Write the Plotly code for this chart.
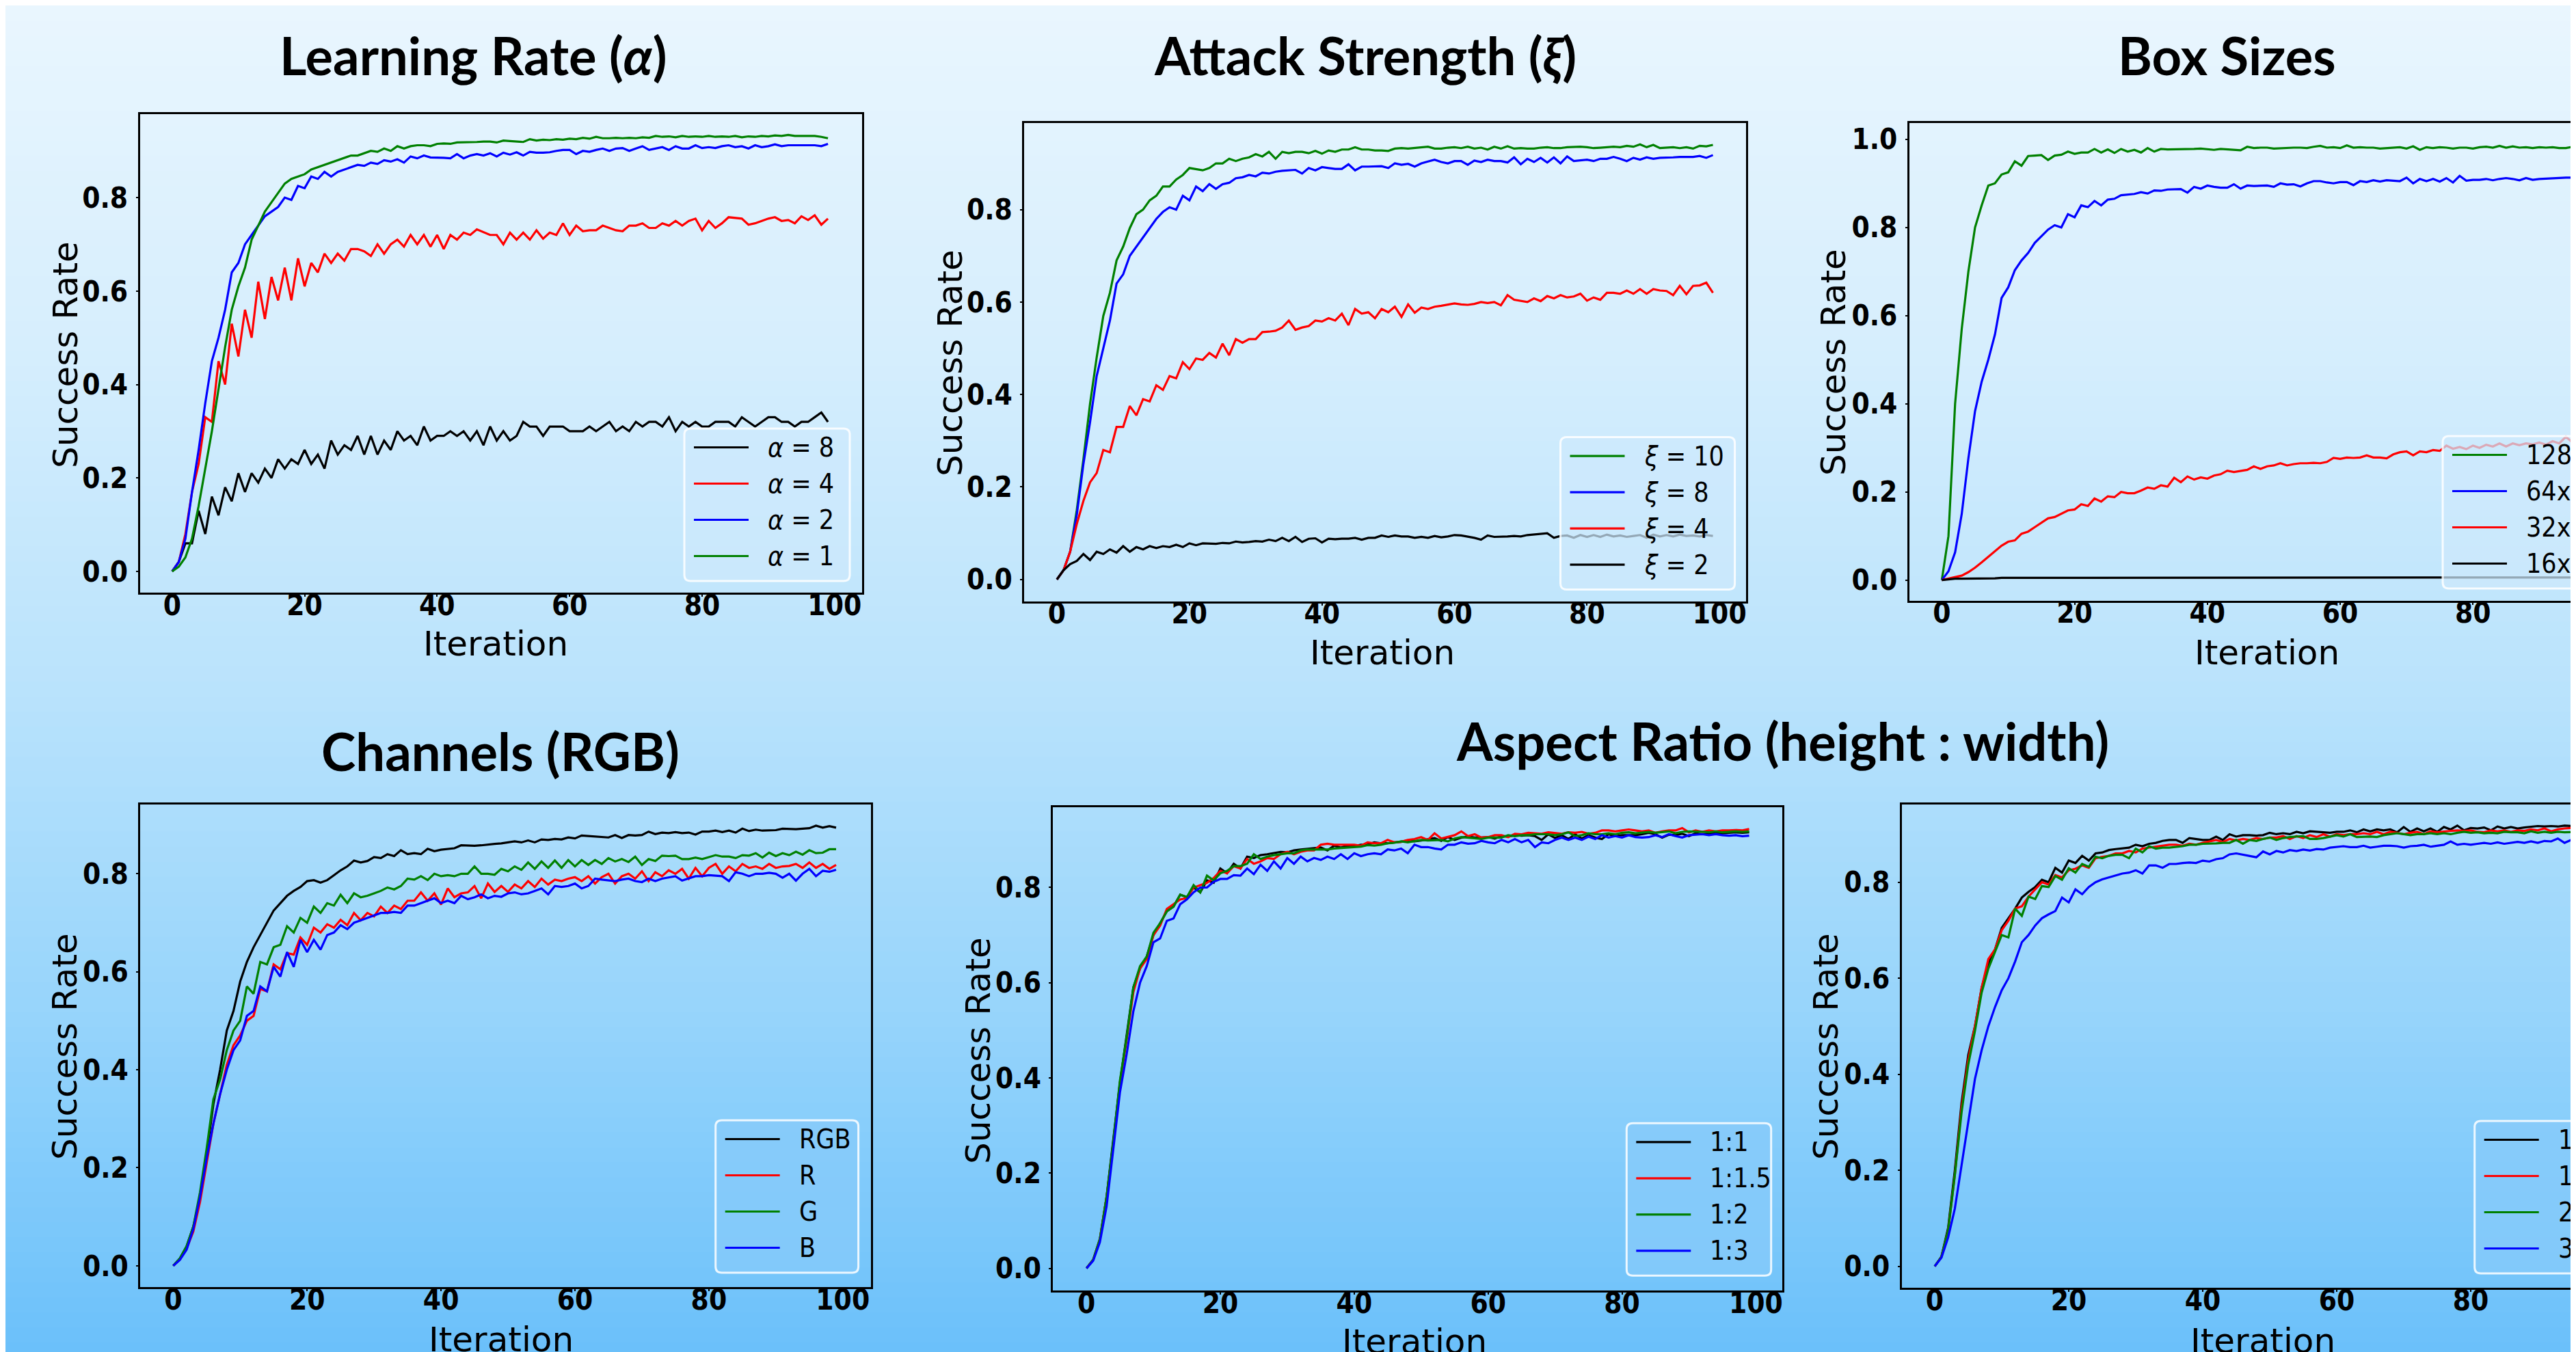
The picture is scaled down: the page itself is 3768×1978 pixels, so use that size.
import plotly.graph_objects as go

W, H = 3768, 1978

# ---------------- data ----------------
# Learning Rate (alpha)
lr_a8 = [0, 0.02, 0.06, 0.06, 0.13, 0.08, 0.16, 0.12, 0.18, 0.15, 0.21, 0.17, 0.21, 0.19, 0.22, 0.20, 0.24, 0.22, 0.24, 0.23,
         0.26, 0.23, 0.25, 0.22, 0.28, 0.25, 0.27, 0.26, 0.29, 0.25, 0.29, 0.25, 0.28, 0.26, 0.30, 0.28, 0.29, 0.27, 0.31, 0.28,
         0.29, 0.29, 0.30, 0.29, 0.30, 0.28, 0.30, 0.27, 0.31, 0.28, 0.30, 0.28, 0.29, 0.32, 0.31, 0.31, 0.29, 0.31, 0.31, 0.31,
         0.30, 0.30, 0.30, 0.31, 0.30, 0.31, 0.32, 0.30, 0.31, 0.30, 0.32, 0.31, 0.32, 0.32, 0.31, 0.33, 0.30, 0.32, 0.31, 0.32,
         0.31, 0.31, 0.32, 0.32, 0.32, 0.31, 0.33, 0.32, 0.31, 0.32, 0.33, 0.33, 0.32, 0.32, 0.31, 0.32, 0.32, 0.33, 0.34, 0.32]
lr_a4 = [0, 0.02, 0.08, 0.17, 0.23, 0.33, 0.32, 0.45, 0.40, 0.53, 0.46, 0.56, 0.50, 0.62, 0.54, 0.63, 0.58, 0.65, 0.58, 0.67,
         0.61, 0.66, 0.64, 0.68, 0.66, 0.68, 0.665, 0.69, 0.69, 0.685, 0.675, 0.70, 0.68, 0.70, 0.71, 0.695, 0.72, 0.70, 0.72, 0.695,
         0.72, 0.69, 0.72, 0.71, 0.725, 0.72, 0.732, 0.726, 0.72, 0.72, 0.70, 0.725, 0.71, 0.725, 0.71, 0.73, 0.712, 0.725, 0.72, 0.745,
         0.72, 0.74, 0.728, 0.73, 0.73, 0.74, 0.735, 0.73, 0.728, 0.74, 0.74, 0.745, 0.735, 0.735, 0.745, 0.74, 0.75, 0.74, 0.75, 0.755,
         0.73, 0.75, 0.735, 0.745, 0.758, 0.756, 0.755, 0.742, 0.745, 0.75, 0.755, 0.758, 0.75, 0.752, 0.745, 0.76, 0.752, 0.762, 0.742, 0.755]
lr_a2 = [0, 0.02, 0.07, 0.17, 0.26, 0.36, 0.45, 0.50, 0.56, 0.64, 0.66, 0.70, 0.72, 0.74, 0.76, 0.77, 0.78, 0.80, 0.795, 0.825,
         0.82, 0.845, 0.84, 0.855, 0.845, 0.855, 0.86, 0.865, 0.87, 0.868, 0.875, 0.872, 0.88, 0.877, 0.882, 0.875, 0.888, 0.884, 0.89, 0.886,
         0.886, 0.885, 0.884, 0.893, 0.884, 0.89, 0.893, 0.89, 0.895, 0.888, 0.896, 0.892, 0.897, 0.89, 0.898, 0.896, 0.896, 0.897, 0.90, 0.902,
         0.902, 0.893, 0.90, 0.898, 0.902, 0.905, 0.90, 0.905, 0.906, 0.90, 0.905, 0.91, 0.902, 0.905, 0.908, 0.902, 0.91, 0.905, 0.905, 0.912,
         0.906, 0.908, 0.906, 0.91, 0.912, 0.908, 0.91, 0.905, 0.912, 0.908, 0.91, 0.914, 0.91, 0.912, 0.912, 0.913, 0.913, 0.912, 0.91, 0.915]
lr_a1 = [0, 0.01, 0.03, 0.07, 0.14, 0.22, 0.30, 0.39, 0.48, 0.56, 0.61, 0.65, 0.71, 0.74, 0.77, 0.79, 0.81, 0.83, 0.84, 0.845,
         0.85, 0.86, 0.865, 0.87, 0.875, 0.88, 0.885, 0.89, 0.89, 0.895, 0.90, 0.898, 0.905, 0.90, 0.91, 0.905, 0.91, 0.912, 0.912, 0.91,
         0.915, 0.916, 0.915, 0.918, 0.918, 0.919, 0.919, 0.92, 0.92, 0.918, 0.922, 0.921, 0.92, 0.919, 0.925, 0.922, 0.924, 0.923, 0.925, 0.924,
         0.926, 0.925, 0.928, 0.926, 0.93, 0.927, 0.927, 0.928, 0.927, 0.928, 0.927, 0.929, 0.928, 0.932, 0.93, 0.931, 0.929, 0.932, 0.93, 0.931,
         0.93, 0.932, 0.93, 0.931, 0.93, 0.932, 0.929, 0.931, 0.93, 0.932, 0.931, 0.933, 0.932, 0.934, 0.932, 0.932, 0.931, 0.932, 0.93, 0.927]

# Attack Strength (xi)
as_x10 = [0, 0.02, 0.06, 0.15, 0.26, 0.38, 0.48, 0.57, 0.62, 0.69, 0.72, 0.76, 0.79, 0.80, 0.82, 0.83, 0.85, 0.85, 0.865, 0.875,
          0.89, 0.887, 0.885, 0.89, 0.90, 0.90, 0.91, 0.905, 0.91, 0.913, 0.92, 0.915, 0.925, 0.91, 0.925, 0.922, 0.925, 0.925, 0.922, 0.927,
          0.921, 0.928, 0.925, 0.93, 0.93, 0.935, 0.93, 0.93, 0.928, 0.928, 0.927, 0.932, 0.933, 0.932, 0.933, 0.935, 0.936, 0.932, 0.932, 0.934,
          0.935, 0.933, 0.936, 0.932, 0.934, 0.93, 0.936, 0.932, 0.937, 0.932, 0.933, 0.932, 0.932, 0.934, 0.935, 0.933, 0.933, 0.935, 0.936, 0.936,
          0.935, 0.933, 0.934, 0.935, 0.936, 0.935, 0.938, 0.936, 0.941, 0.935, 0.94, 0.933, 0.934, 0.935, 0.933, 0.935, 0.932, 0.938, 0.937, 0.94]
as_x8 = [0, 0.02, 0.06, 0.14, 0.25, 0.34, 0.44, 0.50, 0.56, 0.64, 0.66, 0.70, 0.72, 0.74, 0.76, 0.78, 0.795, 0.805, 0.80, 0.83,
         0.82, 0.85, 0.84, 0.855, 0.845, 0.855, 0.858, 0.868, 0.87, 0.875, 0.872, 0.88, 0.878, 0.882, 0.884, 0.885, 0.886, 0.878, 0.89, 0.885,
         0.892, 0.89, 0.888, 0.888, 0.898, 0.885, 0.893, 0.893, 0.893, 0.894, 0.89, 0.90, 0.897, 0.899, 0.893, 0.90, 0.904, 0.908, 0.903, 0.90,
         0.905, 0.905, 0.897, 0.906, 0.903, 0.908, 0.905, 0.905, 0.902, 0.913, 0.898, 0.91, 0.903, 0.912, 0.902, 0.913, 0.90, 0.915, 0.905, 0.906,
         0.908, 0.905, 0.91, 0.91, 0.914, 0.91, 0.905, 0.912, 0.908, 0.913, 0.91, 0.912, 0.912, 0.913, 0.914, 0.914, 0.914, 0.916, 0.912, 0.918]
as_x4 = [0, 0.02, 0.06, 0.12, 0.17, 0.21, 0.23, 0.28, 0.275, 0.33, 0.33, 0.375, 0.355, 0.39, 0.385, 0.42, 0.41, 0.44, 0.435, 0.47,
         0.455, 0.478, 0.475, 0.49, 0.48, 0.51, 0.485, 0.52, 0.512, 0.52, 0.52, 0.535, 0.536, 0.538, 0.545, 0.56, 0.54, 0.545, 0.548, 0.56,
         0.558, 0.565, 0.56, 0.575, 0.55, 0.585, 0.575, 0.578, 0.565, 0.585, 0.578, 0.59, 0.568, 0.595, 0.577, 0.588, 0.585, 0.59, 0.592, 0.595,
         0.597, 0.595, 0.594, 0.596, 0.60, 0.598, 0.60, 0.593, 0.615, 0.605, 0.603, 0.60, 0.608, 0.602, 0.613, 0.608, 0.615, 0.61, 0.612, 0.618,
         0.603, 0.61, 0.605, 0.62, 0.62, 0.618, 0.625, 0.618, 0.628, 0.618, 0.628, 0.625, 0.624, 0.615, 0.635, 0.617, 0.635, 0.636, 0.642, 0.62]
as_x2 = [0, 0.02, 0.033, 0.04, 0.055, 0.042, 0.06, 0.055, 0.065, 0.058, 0.072, 0.06, 0.07, 0.065, 0.072, 0.068, 0.072, 0.07, 0.075, 0.07,
         0.078, 0.074, 0.078, 0.078, 0.077, 0.079, 0.078, 0.082, 0.08, 0.081, 0.083, 0.082, 0.086, 0.083, 0.09, 0.083, 0.092, 0.081, 0.088, 0.089,
         0.08, 0.088, 0.087, 0.088, 0.088, 0.09, 0.086, 0.09, 0.09, 0.095, 0.092, 0.095, 0.093, 0.093, 0.09, 0.092, 0.09, 0.094, 0.091, 0.093,
         0.096, 0.095, 0.093, 0.09, 0.086, 0.095, 0.092, 0.092, 0.093, 0.094, 0.093, 0.096, 0.097, 0.098, 0.10, 0.09, 0.094, 0.095, 0.09, 0.096,
         0.092, 0.096, 0.092, 0.097, 0.093, 0.095, 0.092, 0.094, 0.096, 0.09, 0.097, 0.093, 0.096, 0.093, 0.097, 0.094, 0.095, 0.093, 0.096, 0.094]

# Box Sizes
bs_128 = [0, 0.10, 0.40, 0.57, 0.70, 0.80, 0.85, 0.895, 0.90, 0.92, 0.925, 0.95, 0.94, 0.962, 0.963, 0.964, 0.953, 0.963, 0.965, 0.972,
          0.967, 0.97, 0.97, 0.978, 0.97, 0.977, 0.969, 0.978, 0.972, 0.976, 0.97, 0.98, 0.972, 0.978, 0.977, 0.977, 0.978, 0.978, 0.978, 0.979,
          0.977, 0.976, 0.978, 0.977, 0.975, 0.975, 0.983, 0.98, 0.981, 0.981, 0.979, 0.98, 0.981, 0.981, 0.981, 0.98, 0.983, 0.985, 0.981, 0.982,
          0.98, 0.986, 0.981, 0.982, 0.981, 0.981, 0.979, 0.98, 0.982, 0.982, 0.979, 0.984, 0.976, 0.982, 0.98, 0.982, 0.981, 0.979, 0.981, 0.981,
          0.979, 0.982, 0.983, 0.981, 0.985, 0.981, 0.984, 0.981, 0.982, 0.98, 0.982, 0.981, 0.982, 0.98, 0.98, 0.983, 0.979, 0.981, 0.982, 0.982]
bs_64 = [0, 0.02, 0.063, 0.15, 0.276, 0.383, 0.45, 0.50, 0.557, 0.64, 0.664, 0.703, 0.725, 0.742, 0.765, 0.78, 0.795, 0.805, 0.80, 0.83,
         0.823, 0.85, 0.846, 0.86, 0.85, 0.863, 0.865, 0.873, 0.875, 0.876, 0.88, 0.877, 0.884, 0.883, 0.886, 0.886, 0.887, 0.879, 0.892, 0.888,
         0.895, 0.892, 0.89, 0.89, 0.898, 0.888, 0.895, 0.894, 0.894, 0.895, 0.892, 0.90, 0.897, 0.898, 0.893, 0.90, 0.905, 0.905, 0.902, 0.90,
         0.903, 0.903, 0.896, 0.905, 0.903, 0.907, 0.904, 0.907, 0.906, 0.905, 0.913, 0.90, 0.91, 0.905, 0.91, 0.904, 0.912, 0.902, 0.917, 0.906,
         0.908, 0.908, 0.91, 0.907, 0.91, 0.912, 0.91, 0.907, 0.912, 0.908, 0.91, 0.911, 0.911, 0.912, 0.913, 0.913, 0.913, 0.914, 0.914, 0.915]
bs_32 = [0, 0.003, 0.006, 0.01, 0.018, 0.028, 0.04, 0.053, 0.066, 0.078, 0.087, 0.09, 0.105, 0.11, 0.12, 0.13, 0.14, 0.143, 0.15, 0.158,
         0.16, 0.172, 0.168, 0.185, 0.178, 0.19, 0.188, 0.20, 0.197, 0.197, 0.203, 0.21, 0.207, 0.215, 0.212, 0.232, 0.222, 0.235, 0.228, 0.233,
         0.23, 0.237, 0.24, 0.248, 0.245, 0.248, 0.25, 0.258, 0.252, 0.258, 0.26, 0.265, 0.26, 0.263, 0.265, 0.265, 0.266, 0.265, 0.268, 0.277,
         0.275, 0.278, 0.277, 0.278, 0.283, 0.278, 0.278, 0.276, 0.285, 0.29, 0.292, 0.283, 0.292, 0.29, 0.295, 0.293, 0.305, 0.298, 0.302, 0.297,
         0.305, 0.30, 0.307, 0.303, 0.31, 0.303, 0.31, 0.306, 0.31, 0.308, 0.312, 0.307, 0.315, 0.31, 0.325, 0.312, 0.32, 0.318, 0.318, 0.32]
bs_16 = [0, 0.002, 0.003, 0.003, 0.003, 0.003, 0.003, 0.004, 0.004, 0.005, 0.005, 0.006, 0.006, 0.006, 0.006, 0.006, 0.006, 0.006, 0.006, 0.006,
         0.006, 0.006, 0.006, 0.006, 0.006, 0.006, 0.006, 0.006, 0.006, 0.006, 0.006, 0.006, 0.006, 0.006, 0.006, 0.006, 0.006, 0.006, 0.006, 0.006,
         0.006, 0.006, 0.006, 0.006, 0.006, 0.006, 0.006, 0.006, 0.006, 0.006, 0.006, 0.006, 0.006, 0.006, 0.006, 0.006, 0.006, 0.006, 0.006, 0.006,
         0.006, 0.006, 0.006, 0.006, 0.006, 0.006, 0.006, 0.006, 0.006, 0.006, 0.006, 0.006, 0.006, 0.006, 0.006, 0.006, 0.006, 0.006, 0.006, 0.006,
         0.006, 0.006, 0.006, 0.006, 0.006, 0.006, 0.006, 0.006, 0.006, 0.006, 0.006, 0.006, 0.006, 0.006, 0.006, 0.006, 0.006, 0.006, 0.006, 0.006]

# Channels (RGB)
ch_rgb = [0, 0.015, 0.04, 0.08, 0.14, 0.23, 0.33, 0.40, 0.48, 0.52, 0.58, 0.62, 0.65, 0.675, 0.70, 0.725, 0.74, 0.755, 0.765, 0.773,
          0.785, 0.787, 0.782, 0.787, 0.797, 0.807, 0.815, 0.827, 0.823, 0.826, 0.834, 0.832, 0.84, 0.836, 0.848, 0.84, 0.842, 0.84, 0.851, 0.846,
          0.849, 0.851, 0.852, 0.858, 0.857, 0.857, 0.858, 0.86, 0.861, 0.862, 0.864, 0.866, 0.864, 0.868, 0.864, 0.87, 0.869, 0.871, 0.87, 0.874,
          0.872, 0.878, 0.877, 0.876, 0.876, 0.874, 0.879, 0.873, 0.879, 0.878, 0.879, 0.886, 0.881, 0.884, 0.883, 0.885, 0.883, 0.884, 0.88, 0.886,
          0.886, 0.888, 0.885, 0.888, 0.884, 0.892, 0.887, 0.89, 0.888, 0.889, 0.889, 0.892, 0.891, 0.891, 0.892, 0.893, 0.898, 0.894, 0.897, 0.894]
ch_r = [0, 0.013, 0.035, 0.07, 0.13, 0.21, 0.29, 0.35, 0.41, 0.45, 0.47, 0.50, 0.51, 0.565, 0.56, 0.615, 0.605, 0.638, 0.635, 0.67,
        0.655, 0.69, 0.68, 0.697, 0.69, 0.706, 0.695, 0.72, 0.705, 0.72, 0.713, 0.733, 0.72, 0.735, 0.728, 0.745, 0.745, 0.762, 0.745, 0.76,
        0.737, 0.77, 0.752, 0.76, 0.762, 0.775, 0.75, 0.78, 0.763, 0.775, 0.763, 0.778, 0.77, 0.785, 0.773, 0.79, 0.778, 0.788, 0.785, 0.79,
        0.793, 0.785, 0.795, 0.78, 0.793, 0.80, 0.78, 0.795, 0.80, 0.79, 0.805, 0.785, 0.803, 0.795, 0.807, 0.80, 0.81, 0.79, 0.812, 0.795,
        0.812, 0.82, 0.80, 0.815, 0.805, 0.82, 0.812, 0.815, 0.81, 0.82, 0.812, 0.815, 0.816, 0.82, 0.812, 0.823, 0.812, 0.82, 0.81, 0.818]
ch_g = [0, 0.015, 0.04, 0.08, 0.15, 0.24, 0.34, 0.38, 0.44, 0.48, 0.50, 0.57, 0.555, 0.62, 0.615, 0.65, 0.655, 0.693, 0.68, 0.71,
        0.70, 0.733, 0.72, 0.74, 0.735, 0.757, 0.74, 0.76, 0.752, 0.755, 0.76, 0.765, 0.772, 0.768, 0.775, 0.79, 0.788, 0.795, 0.787, 0.80,
        0.795, 0.797, 0.795, 0.80, 0.80, 0.815, 0.80, 0.80, 0.798, 0.81, 0.805, 0.815, 0.808, 0.823, 0.81, 0.825, 0.812, 0.827, 0.812, 0.828,
        0.815, 0.828, 0.818, 0.828, 0.82, 0.832, 0.825, 0.83, 0.824, 0.835, 0.818, 0.83, 0.826, 0.837, 0.836, 0.837, 0.83, 0.83, 0.833, 0.83,
        0.834, 0.838, 0.835, 0.835, 0.832, 0.838, 0.837, 0.842, 0.833, 0.843, 0.836, 0.842, 0.838, 0.845, 0.839, 0.848, 0.842, 0.843, 0.85, 0.85]
ch_b = [0, 0.012, 0.033, 0.075, 0.14, 0.22, 0.29, 0.35, 0.40, 0.44, 0.46, 0.51, 0.52, 0.57, 0.56, 0.61, 0.59, 0.64, 0.61, 0.665,
        0.64, 0.665, 0.645, 0.675, 0.68, 0.695, 0.687, 0.70, 0.705, 0.71, 0.715, 0.72, 0.72, 0.722, 0.72, 0.735, 0.735, 0.74, 0.745, 0.75,
        0.74, 0.745, 0.74, 0.755, 0.748, 0.752, 0.758, 0.75, 0.755, 0.753, 0.76, 0.762, 0.758, 0.76, 0.765, 0.77, 0.758, 0.775, 0.773, 0.775,
        0.78, 0.77, 0.775, 0.79, 0.788, 0.787, 0.785, 0.788, 0.79, 0.785, 0.783, 0.79, 0.785, 0.79, 0.793, 0.795, 0.786, 0.79, 0.795, 0.795,
        0.797, 0.796, 0.795, 0.785, 0.803, 0.80, 0.795, 0.80, 0.80, 0.802, 0.80, 0.792, 0.80, 0.786, 0.80, 0.81, 0.795, 0.806, 0.804, 0.808]

# Aspect Ratio (height : width), left panel
ar_1_1 = [0, 0.018, 0.06, 0.15, 0.27, 0.39, 0.49, 0.59, 0.63, 0.655, 0.70, 0.725, 0.75, 0.76, 0.785, 0.78, 0.80, 0.79, 0.815, 0.81,
          0.84, 0.83, 0.85, 0.84, 0.865, 0.862, 0.868, 0.87, 0.872, 0.875, 0.874, 0.878, 0.88, 0.881, 0.882, 0.884, 0.878, 0.888, 0.884, 0.888,
          0.887, 0.89, 0.89, 0.895, 0.893, 0.893, 0.895, 0.896, 0.899, 0.897, 0.899, 0.901, 0.904, 0.898, 0.906, 0.90, 0.905, 0.907, 0.905, 0.905,
          0.906, 0.903, 0.908, 0.907, 0.91, 0.909, 0.91, 0.908, 0.90, 0.912, 0.904, 0.91, 0.902, 0.912, 0.903, 0.91, 0.905, 0.902, 0.912, 0.908,
          0.91, 0.91, 0.91, 0.912, 0.915, 0.912, 0.905, 0.911, 0.91, 0.913, 0.908, 0.914, 0.912, 0.913, 0.913, 0.914, 0.915, 0.916, 0.915, 0.916]
ar_1_15 = [0, 0.018, 0.062, 0.15, 0.26, 0.39, 0.48, 0.58, 0.63, 0.65, 0.70, 0.72, 0.755, 0.765, 0.775, 0.778, 0.80, 0.805, 0.81, 0.82,
           0.835, 0.83, 0.845, 0.84, 0.86, 0.85, 0.855, 0.862, 0.86, 0.87, 0.875, 0.87, 0.875, 0.878, 0.878, 0.89, 0.892, 0.89, 0.89, 0.89,
           0.89, 0.888, 0.895, 0.893, 0.893, 0.90, 0.895, 0.896, 0.90, 0.902, 0.906, 0.90, 0.914, 0.903, 0.906, 0.91, 0.918, 0.908, 0.912, 0.905,
           0.906, 0.91, 0.91, 0.906, 0.913, 0.912, 0.915, 0.914, 0.913, 0.916, 0.915, 0.913, 0.916, 0.915, 0.917, 0.913, 0.915, 0.92, 0.92, 0.918,
           0.92, 0.922, 0.92, 0.918, 0.92, 0.915, 0.918, 0.92, 0.92, 0.925, 0.916, 0.92, 0.917, 0.92, 0.918, 0.92, 0.92, 0.921, 0.92, 0.923]
ar_1_2 = [0, 0.018, 0.062, 0.15, 0.265, 0.395, 0.485, 0.59, 0.635, 0.655, 0.705, 0.725, 0.75, 0.76, 0.785, 0.78, 0.805, 0.79, 0.825, 0.815,
          0.83, 0.835, 0.845, 0.845, 0.85, 0.87, 0.86, 0.865, 0.868, 0.87, 0.872, 0.872, 0.878, 0.88, 0.88, 0.88, 0.88, 0.882, 0.883, 0.885,
          0.885, 0.886, 0.889, 0.888, 0.89, 0.893, 0.894, 0.897, 0.895, 0.898, 0.90, 0.899, 0.90, 0.90, 0.897, 0.903, 0.906, 0.905, 0.904, 0.902,
          0.905, 0.905, 0.905, 0.91, 0.908, 0.91, 0.91, 0.912, 0.912, 0.912, 0.91, 0.912, 0.916, 0.908, 0.91, 0.914, 0.912, 0.912, 0.914, 0.912,
          0.915, 0.916, 0.914, 0.915, 0.917, 0.915, 0.916, 0.918, 0.914, 0.917, 0.918, 0.918, 0.917, 0.916, 0.918, 0.916, 0.917, 0.918, 0.917, 0.918]
ar_1_3 = [0, 0.016, 0.055, 0.13, 0.25, 0.37, 0.45, 0.54, 0.60, 0.635, 0.685, 0.693, 0.73, 0.735, 0.765, 0.775, 0.79, 0.80, 0.80, 0.812,
          0.818, 0.818, 0.826, 0.825, 0.84, 0.828, 0.848, 0.835, 0.855, 0.84, 0.862, 0.85, 0.865, 0.855, 0.862, 0.858, 0.865, 0.86, 0.87, 0.86,
          0.872, 0.866, 0.87, 0.872, 0.87, 0.88, 0.878, 0.882, 0.872, 0.89, 0.885, 0.885, 0.882, 0.88, 0.89, 0.89, 0.895, 0.892, 0.893, 0.898,
          0.895, 0.893, 0.90, 0.895, 0.902, 0.895, 0.90, 0.885, 0.895, 0.893, 0.90, 0.905, 0.90, 0.905, 0.90, 0.907, 0.902, 0.91, 0.905, 0.908,
          0.905, 0.91, 0.906, 0.905, 0.906, 0.91, 0.906, 0.912, 0.908, 0.905, 0.91, 0.911, 0.912, 0.91, 0.912, 0.91, 0.909, 0.91, 0.908, 0.909]

# Aspect Ratio (height : width), right panel
ar_11 = [0, 0.02, 0.08, 0.20, 0.34, 0.44, 0.50, 0.58, 0.63, 0.66, 0.705, 0.725, 0.745, 0.768, 0.78, 0.79, 0.805, 0.80, 0.83, 0.82,
         0.845, 0.84, 0.855, 0.845, 0.86, 0.862, 0.867, 0.869, 0.87, 0.872, 0.878, 0.875, 0.88, 0.882, 0.886, 0.888, 0.888, 0.882, 0.892, 0.89,
         0.888, 0.888, 0.895, 0.888, 0.90, 0.895, 0.898, 0.898, 0.897, 0.898, 0.903, 0.90, 0.902, 0.90, 0.905, 0.902, 0.906, 0.905, 0.904, 0.903,
         0.905, 0.905, 0.908, 0.904, 0.91, 0.906, 0.91, 0.908, 0.91, 0.904, 0.915, 0.905, 0.912, 0.906, 0.912, 0.905, 0.915, 0.91, 0.918, 0.908,
         0.913, 0.912, 0.914, 0.908, 0.916, 0.912, 0.915, 0.912, 0.914, 0.915, 0.917, 0.916, 0.917, 0.916, 0.918, 0.917, 0.918, 0.918, 0.919, 0.918]
ar_151 = [0, 0.02, 0.075, 0.19, 0.33, 0.43, 0.50, 0.58, 0.64, 0.66, 0.70, 0.72, 0.745, 0.75, 0.77, 0.785, 0.80, 0.795, 0.815, 0.81,
          0.825, 0.828, 0.835, 0.83, 0.85, 0.853, 0.855, 0.86, 0.86, 0.865, 0.862, 0.87, 0.872, 0.873, 0.875, 0.878, 0.878, 0.876, 0.88, 0.878,
          0.882, 0.885, 0.888, 0.884, 0.89, 0.887, 0.89, 0.888, 0.892, 0.89, 0.893, 0.893, 0.896, 0.89, 0.896, 0.892, 0.898, 0.894, 0.90, 0.895,
          0.90, 0.898, 0.90, 0.90, 0.902, 0.90, 0.905, 0.90, 0.905, 0.903, 0.90, 0.903, 0.905, 0.90, 0.906, 0.904, 0.906, 0.907, 0.908, 0.907,
          0.908, 0.905, 0.904, 0.908, 0.906, 0.908, 0.905, 0.908, 0.907, 0.91, 0.908, 0.912, 0.906, 0.91, 0.912, 0.913, 0.91, 0.914, 0.912, 0.915]
ar_21 = [0, 0.02, 0.075, 0.19, 0.32, 0.42, 0.49, 0.57, 0.62, 0.655, 0.69, 0.685, 0.745, 0.73, 0.77, 0.765, 0.792, 0.79, 0.813, 0.805,
         0.829, 0.82, 0.838, 0.832, 0.853, 0.85, 0.855, 0.857, 0.857, 0.85, 0.87, 0.862, 0.875, 0.87, 0.872, 0.872, 0.873, 0.875, 0.878, 0.878,
         0.88, 0.88, 0.881, 0.882, 0.882, 0.888, 0.88, 0.888, 0.886, 0.89, 0.893, 0.888, 0.892, 0.894, 0.895, 0.896, 0.89, 0.89, 0.892, 0.895,
         0.898, 0.895, 0.90, 0.894, 0.895, 0.895, 0.894, 0.898, 0.90, 0.902, 0.90, 0.898, 0.90, 0.90, 0.902, 0.90, 0.902, 0.90, 0.903, 0.905,
         0.903, 0.904, 0.902, 0.903, 0.902, 0.905, 0.904, 0.904, 0.902, 0.906, 0.903, 0.905, 0.903, 0.905, 0.904, 0.904, 0.905, 0.906, 0.905, 0.906]
ar_31 = [0, 0.018, 0.06, 0.12, 0.21, 0.30, 0.39, 0.45, 0.50, 0.54, 0.575, 0.60, 0.635, 0.675, 0.69, 0.71, 0.725, 0.733, 0.74, 0.768,
         0.758, 0.785, 0.775, 0.79, 0.80, 0.806, 0.81, 0.815, 0.818, 0.82, 0.825, 0.818, 0.835, 0.835, 0.83, 0.838, 0.838, 0.84, 0.841, 0.84,
         0.845, 0.843, 0.848, 0.85, 0.858, 0.86, 0.857, 0.855, 0.852, 0.864, 0.858, 0.865, 0.862, 0.867, 0.865, 0.868, 0.866, 0.869, 0.868, 0.872,
         0.873, 0.875, 0.873, 0.873, 0.876, 0.872, 0.874, 0.876, 0.876, 0.875, 0.872, 0.875, 0.876, 0.878, 0.874, 0.876, 0.878, 0.885, 0.878, 0.88,
         0.878, 0.88, 0.882, 0.88, 0.883, 0.88, 0.882, 0.884, 0.882, 0.885, 0.882, 0.886, 0.885, 0.891, 0.882, 0.888, 0.885, 0.887, 0.885, 0.888]

x_ticks = [0, 20, 40, 60, 80, 100]
y_ticks = [0.0, 0.2, 0.4, 0.6, 0.8]
y_ticks_box = [0.0, 0.2, 0.4, 0.6, 0.8, 1.0]

titles = ["Learning Rate (<i>α</i>)", "Attack Strength (<i>ξ</i>)", "Box Sizes",
          "Channels (RGB)", "Aspect Ratio (height : width)"]
lr_labels = ["<i>α</i> = 8", "<i>α</i> = 4", "<i>α</i> = 2", "<i>α</i> = 1"]
as_labels = ["<i>ξ</i> = 10", "<i>ξ</i> = 8", "<i>ξ</i> = 4", "<i>ξ</i> = 2"]
bs_labels = ["128x128", "64x64", "32x32", "16x16"]
ch_labels = ["RGB", "R", "G", "B"]
ar_left_labels = ["1:1", "1:1.5", "1:2", "1:3"]
ar_right_labels = ["1:1", "1.5:1", "2:1", "3:1"]
x_title = "Iteration"
y_title = "Success Rate"

K, R, BL, GR = "#000000", "#ff0000", "#0000ff", "#008000"

# ---------------- layout geometry (pixels) ----------------
panels = [
    dict(series=[lr_a8, lr_a4, lr_a2, lr_a1], labels=lr_labels, colors=[K, R, BL, GR],
         xpx=(196.5, 1252.7), ypx=(159.4, 859.4), xr=(-4.88, 104.12), yr=(-0.046, 0.978), yt=y_ticks, cut=False,
         ytitle=(88, 511), xtitle=(717, 934), leg=(993, 1235, 619)),
    dict(series=[as_x10, as_x8, as_x4, as_x2], labels=as_labels, colors=[GR, BL, R, K],
         xpx=(1490.3, 2546.3), ypx=(172.2, 871.5), xr=(-4.92, 104.03), yr=(-0.047, 0.987), yt=y_ticks, cut=False,
         ytitle=(1382, 523), xtitle=(2014, 947), leg=(2274.5, 2529.6, 631.6)),
    dict(series=[bs_128, bs_64, bs_32, bs_16], labels=bs_labels, colors=[GR, BL, R, K],
         xpx=(2784.8, 3768), ypx=(171.9, 870.6), xr=(-4.90, 96.35), yr=(-0.0465, 1.037), yt=y_ticks_box, cut=True,
         ytitle=(2674, 522), xtitle=(3308, 947), leg=(3565, 3800, 630)),
    dict(series=[ch_rgb, ch_r, ch_g, ch_b], labels=ch_labels, colors=[K, R, GR, BL],
         xpx=(197.3, 1265.9), ypx=(1168.5, 1875.4), xr=(-4.91, 104.2), yr=(-0.044, 0.942), yt=y_ticks, cut=False,
         ytitle=(87, 1523), xtitle=(725, 1952), leg=(1038.7, 1247.6, 1631)),
    dict(series=[ar_1_1, ar_1_15, ar_1_2, ar_1_3], labels=ar_left_labels, colors=[K, R, GR, BL],
         xpx=(1532.4, 2599.3), ypx=(1172.8, 1880.3), xr=(-4.99, 103.98), yr=(-0.047, 0.969), yt=y_ticks, cut=False,
         ytitle=(1423, 1529), xtitle=(2061, 1955), leg=(2371.3, 2582.7, 1635.3)),
    dict(series=[ar_11, ar_151, ar_21, ar_31], labels=ar_right_labels, colors=[K, R, GR, BL],
         xpx=(2773.6, 3768), ypx=(1168.9, 1876.2), xr=(-4.94, 96.53), yr=(-0.045, 0.962), yt=y_ticks, cut=True,
         ytitle=(2663, 1523), xtitle=(3302, 1954), leg=(3611.7, 3800, 1632)),
]
title_pos = [(684, 72), (1989, 73), (3249, 72), (724, 1090), (2599, 1075)]


def fx(px):
    return px / W


def fy(py):
    return 1 - py / H


NARROW = "Liberation Sans Narrow, DejaVu Sans Condensed, DejaVu Sans, sans-serif"
TICK_FONT = dict(family=NARROW, size=42, color="black", weight="bold")
LABEL_FONT = dict(family="DejaVu Sans, Roboto, sans-serif", size=50, color="black")
LEG_FONT = dict(family=NARROW, size=39, color="black")
TITLE_FONT = dict(family="Lato, Open Sans, sans-serif", size=76, color="black", weight="bold")

fig = go.Figure()
shapes = []
annotations = []
layout_axes = {}

# background gradient (slide backdrop)
stops = [(0.0, (233, 246, 254)), (0.25, (214, 238, 253)), (0.5, (186, 227, 252)),
         (0.75, (150, 212, 251)), (1.0, (106, 192, 250))]
NB = 90
for i in range(NB):
    t = (i + 0.5) / NB
    c = stops[-1][1]
    for j in range(len(stops) - 1):
        if stops[j][0] <= t <= stops[j + 1][0]:
            a, ca = stops[j]
            b, cb = stops[j + 1]
            u = (t - a) / (b - a)
            c = tuple(int(round(ca[k] + (cb[k] - ca[k]) * u)) for k in range(3))
            break
    shapes.append(dict(type="rect", xref="paper", yref="paper", x0=0, x1=1,
                       y0=1 - (i + 1) / NB - 0.001, y1=1 - i / NB,
                       fillcolor="rgb(%d,%d,%d)" % c, line=dict(width=0), layer="below"))

for n, p in enumerate(panels, start=1):
    xa = "xaxis" if n == 1 else "xaxis%d" % n
    ya = "yaxis" if n == 1 else "yaxis%d" % n
    xref = "x" if n == 1 else "x%d" % n
    yref = "y" if n == 1 else "y%d" % n
    layout_axes[xa] = dict(domain=[fx(p["xpx"][0]), fx(p["xpx"][1])], range=list(p["xr"]), anchor=yref,
                           tickvals=x_ticks, ticks="outside", ticklen=3, tickwidth=1.5, tickcolor="black",
                           ticklabelstandoff=-24,
                           showline=True, linecolor="black", linewidth=3, mirror=True,
                           showgrid=False, zeroline=False, tickfont=TICK_FONT)
    layout_axes[ya] = dict(domain=[fy(p["ypx"][1]), fy(p["ypx"][0])], range=list(p["yr"]), anchor=xref,
                           tickvals=p["yt"], tickformat=".1f", ticks="outside", ticklen=3, tickwidth=1.5,
                           tickcolor="black", ticklabelstandoff=3,
                           showline=True, linecolor="black", linewidth=3,
                           mirror=not p["cut"], showgrid=False, zeroline=False, tickfont=TICK_FONT)
    for ys, lab, col in zip(p["series"], p["labels"], p["colors"]):
        fig.add_trace(go.Scatter(x=list(range(len(ys))), y=ys, mode="lines", name=lab,
                                 line=dict(color=col, width=3.2), xaxis=xref, yaxis=yref,
                                 showlegend=False, hoverinfo="skip"))
    # axis titles
    annotations.append(dict(text=y_title, xref="paper", yref="paper", x=fx(p["ytitle"][0]), y=fy(p["ytitle"][1]),
                            textangle=-90, showarrow=False, xanchor="center", yanchor="middle", font=LABEL_FONT))
    annotations.append(dict(text=x_title, xref="paper", yref="paper", x=fx(p["xtitle"][0]), y=fy(p["xtitle"][1]),
                            showarrow=False, xanchor="center", yanchor="middle", font=LABEL_FONT))
    # legend box
    l, r, t = p["leg"]
    b = t + 223
    rad = 9
    path = ("M {a},{b0} L {c},{b0} Q {r0},{b0} {r0},{d} L {r0},{e} Q {r0},{t0} {c},{t0} "
            "L {a},{t0} Q {l0},{t0} {l0},{e} L {l0},{d} Q {l0},{b0} {a},{b0} Z").format(
        a=fx(l + rad), c=fx(r - rad), r0=fx(r), l0=fx(l), b0=fy(b), t0=fy(t), d=fy(b - rad), e=fy(t + rad))
    fill = "rgba(205,233,252,0.72)" if t < 1000 else "rgba(135,203,250,0.72)"
    shapes.append(dict(type="path", xref="paper", yref="paper", path=path, fillcolor=fill,
                       line=dict(color="rgba(255,255,255,0.85)", width=3), layer="above"))
    for i, (lab, col) in enumerate(zip(p["labels"], p["colors"])):
        yy = t + 27.5 + 53 * i
        shapes.append(dict(type="line", xref="paper", yref="paper", x0=fx(l + 14), x1=fx(l + 94),
                           y0=fy(yy), y1=fy(yy), line=dict(color=col, width=3.2), layer="above"))
        annotations.append(dict(text=lab, xref="paper", yref="paper", x=fx(l + 120), y=fy(yy),
                                showarrow=False, xanchor="left", yanchor="middle", font=LEG_FONT))

for txt, (tx, ty) in zip(titles, title_pos):
    annotations.append(dict(text=txt, xref="paper", yref="paper", x=fx(tx), y=fy(ty), showarrow=False,
                            xanchor="center", yanchor="middle", font=TITLE_FONT))

fig.update_layout(width=W, height=H, margin=dict(l=0, r=0, t=0, b=0, autoexpand=False),
                  paper_bgcolor="rgb(180,224,252)", plot_bgcolor="rgba(0,0,0,0)",
                  showlegend=False, shapes=shapes, annotations=annotations, **layout_axes)

fig.write_html("out.html")
